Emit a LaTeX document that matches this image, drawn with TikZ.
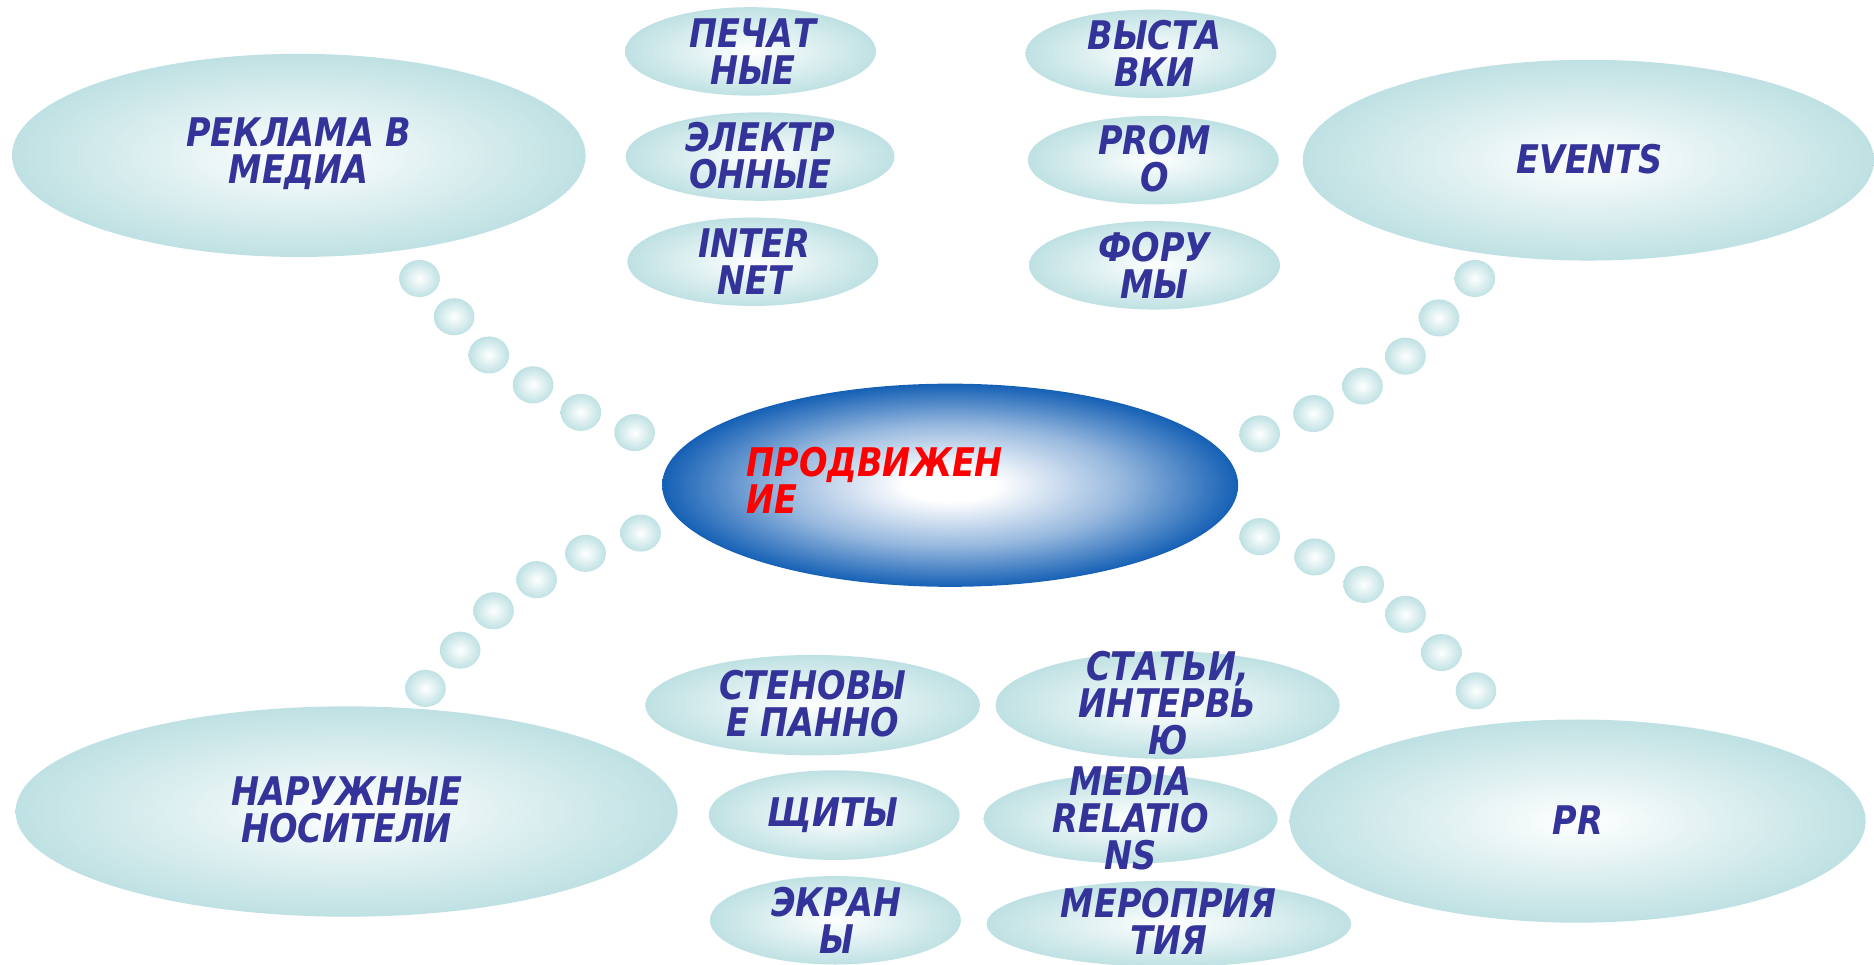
\documentclass[tikz,border=0pt]{standalone}
\usepackage{fontspec}
\usepackage{xcolor}
\usepackage{tikz}
\usetikzlibrary{shapes,positioning}
\newfontfamily\lblfont{DejaVu Sans}[FakeStretch=0.85]
\definecolor{bubbleedge}{HTML}{BFE1E3}
\definecolor{coreblue}{HTML}{1560B5}
\definecolor{lblblue}{HTML}{333399}
\pgfdeclareradialshading{coreshade}{\pgfpoint{0bp}{0bp}}{color(0bp)=(white); color(4bp)=(white);
  color(15bp)=(coreblue!45!white); color(25bp)=(coreblue); color(50bp)=(coreblue)}
\tikzset{
  bubble/.style={ellipse, inner sep=0pt, shading=radial, inner color=white, outer color=bubbleedge},
  core/.style={ellipse, inner sep=0pt, shading=coreshade},
  dot/.style={shading=radial, inner color=white, outer color=bubbleedge},
  lbl/.style={text=lblblue, font=\lblfont\bfseries\itshape\fontsize{33}{31}\selectfont, align=center},
  big/.style={bubble, minimum width=480pt, minimum height=170pt},
  small/.style={bubble, minimum width=210pt, minimum height=74pt}
}

\begin{document}
\begin{tikzpicture}[x=1pt,y=-1pt]
    \useasboundingbox (0,0) rectangle (1568,807);
    % the four branches and the centre
    \node[big] (media) at (250,130) {};
    \node[lbl] (mediat) at (250,129) {РЕКЛАМА В\\МЕДИА};
    \node[big, minimum width=478pt, minimum height=168pt] (events) at (1329,134) {};
    \node[lbl] (eventst) at (1330,133) {EVENTS};
    \node[big, minimum width=554pt, minimum height=176pt] (outdoor) at (290,679) {};
    \node[lbl] (outdoort) at (290,678) {НАРУЖНЫЕ\\НОСИТЕЛИ};
    \node[big, minimum width=482pt] (pr) at (1320,687) {};
    \node[lbl] (prt) at (1320,686) {PR};
    \node[core, minimum width=482pt, minimum height=170pt] (promo) at (795,406) {};
    \node[lbl, text=red, align=left, anchor=west] (promot) at (621,402) {ПРОДВИЖЕН\\ИЕ};
    % small ellipses, top
    \node[small] (print) at (628,43) {};
    \node[lbl] at (630,43) {ПЕЧАТ\\НЫЕ};
    \node[small, minimum width=225pt] (elec) at (636,131) {};
    \node[lbl] at (636,130) {ЭЛЕКТР\\ОННЫЕ};
    \node[small] (inet) at (630,219) {};
    \node[lbl] at (631,219) {INTER\\NET};
    \node[small] (expo) at (963,45) {};
    \node[lbl] at (966,45) {ВЫСТА\\ВКИ};
    \node[small] (prom) at (965,134) {};
    \node[lbl] at (966,133) {PROM\\O};
    \node[small] (forum) at (966,222) {};
    \node[lbl] at (966,222) {ФОРУ\\МЫ};
    % small ellipses, bottom
    \node[small, minimum width=280pt, minimum height=84pt] (wall) at (680,590) {};
    \node[lbl] at (680,589) {СТЕНОВЫ\\Е ПАННО};
    \node[small, minimum height=75pt] (board) at (698,682) {};
    \node[lbl] at (697,682) {ЩИТЫ};
    \node[small] (screen) at (699,770) {};
    \node[lbl] at (700,770) {ЭКРАН\\Ы};
    \node[small, minimum width=288pt, minimum height=90pt] (press) at (977,590) {};
    \node[lbl] at (977,588) {СТАТЬИ,\\ИНТЕРВЬ\\Ю};
    \node[small, minimum width=246pt, minimum height=75pt] (mrel) at (946,685) {};
    \node[lbl] at (946,685) {MEDIA\\RELATIO\\NS};
    \node[small, minimum width=305pt, minimum height=72pt] (event) at (978,773) {};
    \node[lbl] at (978,771) {МЕРОПРИЯ\\ТИЯ};
    % dotted trails
    \foreach \x/\y in {351/233,380/265,409/297,446/322,486/345,531/362,
                       536/446,490/463,449/485,413/511,385/544,356/576,
                       1234/233,1204/266,1176/298,1140/323,1099/346,1054/363,
                       1054/449,1100/466,1141/489,1176/514,1206/546,1235/578}
        \shade[dot] (\x,\y) ellipse (17 and 15.5);
\end{tikzpicture}
\end{document}
